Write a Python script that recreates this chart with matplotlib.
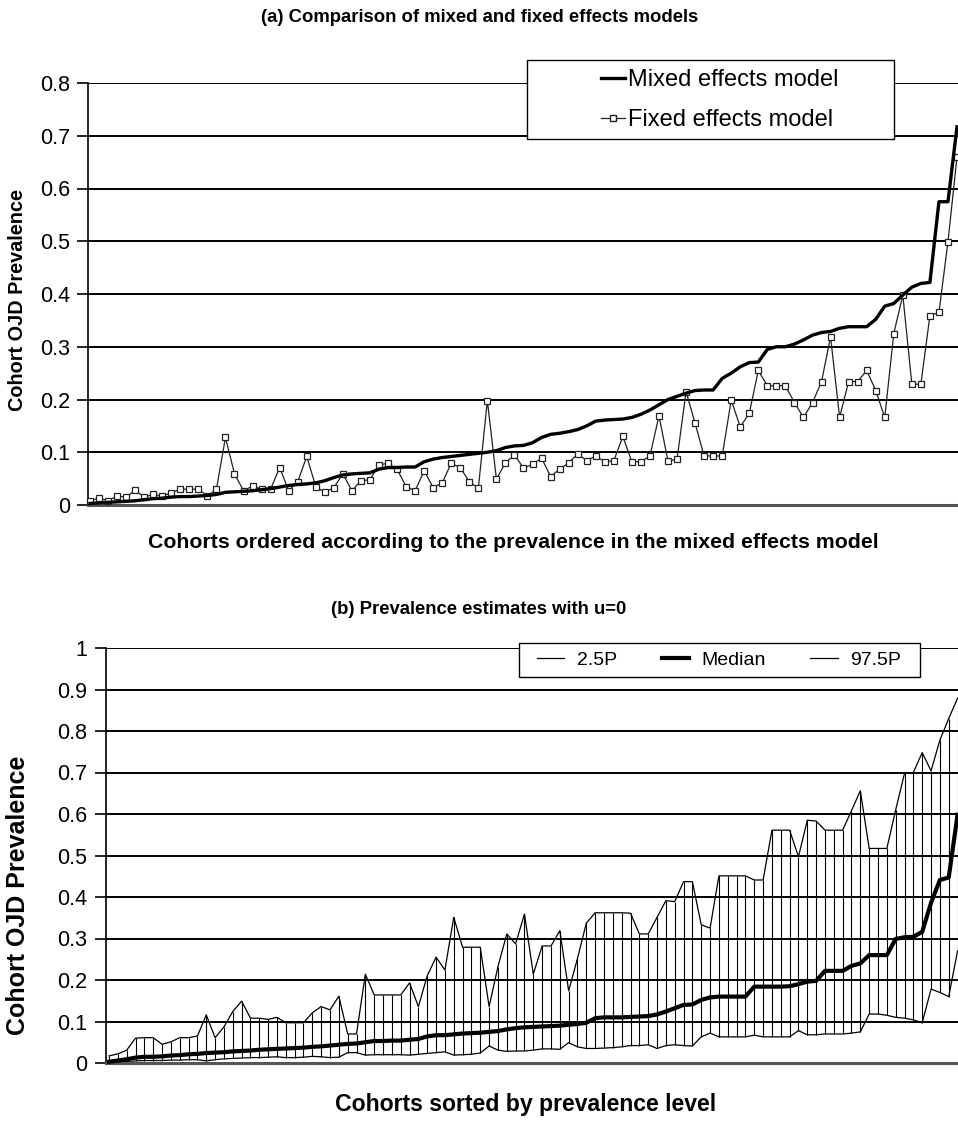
import matplotlib
matplotlib.use("Agg")
import matplotlib.pyplot as plt
from matplotlib.patches import Rectangle
from matplotlib.lines import Line2D
import numpy as np

plt.rcParams['font.family'] = ['Liberation Sans', 'DejaVu Sans']

# ---------------- data: panel (a) ----------------
mixed_effects = [
    0.003, 0.004, 0.005, 0.006, 0.007, 0.008, 0.010, 0.012, 0.013, 0.015,
    0.016, 0.016, 0.017, 0.018, 0.020, 0.024, 0.025, 0.026, 0.027, 0.029,
    0.031, 0.034, 0.037, 0.039, 0.040, 0.042, 0.046, 0.052, 0.057, 0.059,
    0.060, 0.061, 0.068, 0.071, 0.071, 0.072, 0.072, 0.082, 0.087, 0.090,
    0.092, 0.094, 0.096, 0.098, 0.100, 0.103, 0.109, 0.112, 0.113, 0.118,
    0.128, 0.134, 0.136, 0.139, 0.143, 0.150, 0.159, 0.161, 0.162, 0.163,
    0.166, 0.172, 0.180, 0.190, 0.200, 0.206, 0.212, 0.217, 0.218, 0.218,
    0.240, 0.250, 0.262, 0.270, 0.271, 0.295, 0.300, 0.300, 0.305, 0.313,
    0.322, 0.327, 0.329, 0.335, 0.338, 0.338, 0.338, 0.352, 0.377, 0.382,
    0.398, 0.413, 0.420, 0.422, 0.575, 0.575, 0.717]
fixed_effects = [
    0.008, 0.013, 0.008, 0.017, 0.015, 0.028, 0.015, 0.020, 0.017, 0.023,
    0.030, 0.030, 0.030, 0.017, 0.030, 0.128, 0.059, 0.027, 0.036, 0.030,
    0.030, 0.071, 0.027, 0.044, 0.092, 0.035, 0.024, 0.033, 0.059, 0.027,
    0.046, 0.048, 0.076, 0.079, 0.068, 0.035, 0.027, 0.065, 0.033, 0.042,
    0.079, 0.071, 0.044, 0.032, 0.198, 0.049, 0.080, 0.095, 0.070, 0.077,
    0.089, 0.054, 0.068, 0.080, 0.097, 0.084, 0.093, 0.082, 0.084, 0.130,
    0.082, 0.082, 0.093, 0.169, 0.083, 0.087, 0.215, 0.155, 0.093, 0.093,
    0.093, 0.199, 0.148, 0.174, 0.255, 0.226, 0.226, 0.226, 0.194, 0.166,
    0.194, 0.234, 0.319, 0.166, 0.234, 0.234, 0.255, 0.217, 0.166, 0.325,
    0.398, 0.229, 0.229, 0.359, 0.365, 0.499, 0.660]

# ---------------- data: panel (b) ----------------
p025 = [
    0.002, 0.003, 0.004, 0.005, 0.006, 0.006, 0.006, 0.007, 0.007, 0.008,
    0.008, 0.005, 0.008, 0.010, 0.011, 0.012, 0.013, 0.013, 0.014, 0.015,
    0.013, 0.013, 0.014, 0.016, 0.015, 0.013, 0.014, 0.025, 0.025, 0.019,
    0.020, 0.020, 0.020, 0.020, 0.019, 0.021, 0.023, 0.025, 0.027, 0.019,
    0.020, 0.021, 0.024, 0.041, 0.031, 0.028, 0.029, 0.029, 0.031, 0.034,
    0.034, 0.033, 0.049, 0.039, 0.035, 0.035, 0.036, 0.037, 0.039, 0.042,
    0.042, 0.044, 0.035, 0.042, 0.044, 0.042, 0.041, 0.063, 0.072, 0.063,
    0.063, 0.063, 0.063, 0.067, 0.063, 0.063, 0.063, 0.063, 0.078, 0.068,
    0.068, 0.070, 0.070, 0.070, 0.072, 0.075, 0.118, 0.118, 0.115, 0.110,
    0.108, 0.104, 0.097, 0.178, 0.170, 0.160, 0.270]
median = [
    0.003, 0.006, 0.009, 0.013, 0.015, 0.015, 0.016, 0.018, 0.019, 0.021,
    0.022, 0.024, 0.025, 0.026, 0.028, 0.029, 0.030, 0.032, 0.033, 0.034,
    0.035, 0.036, 0.037, 0.039, 0.040, 0.042, 0.044, 0.046, 0.047, 0.050,
    0.053, 0.053, 0.054, 0.054, 0.056, 0.058, 0.064, 0.067, 0.067, 0.069,
    0.071, 0.072, 0.073, 0.075, 0.077, 0.081, 0.084, 0.086, 0.087, 0.088,
    0.089, 0.090, 0.092, 0.094, 0.097, 0.108, 0.110, 0.110, 0.110, 0.111,
    0.112, 0.113, 0.117, 0.124, 0.132, 0.140, 0.141, 0.152, 0.158, 0.160,
    0.160, 0.160, 0.160, 0.184, 0.184, 0.184, 0.184, 0.185, 0.190, 0.196,
    0.198, 0.222, 0.222, 0.222, 0.234, 0.240, 0.260, 0.260, 0.260, 0.299,
    0.303, 0.304, 0.316, 0.386, 0.441, 0.447, 0.598]
p975 = [
    0.017, 0.022, 0.031, 0.060, 0.061, 0.061, 0.045, 0.051, 0.061, 0.061,
    0.065, 0.116, 0.061, 0.087, 0.124, 0.149, 0.108, 0.108, 0.105, 0.110,
    0.097, 0.097, 0.097, 0.121, 0.136, 0.128, 0.161, 0.070, 0.070, 0.214,
    0.164, 0.164, 0.164, 0.164, 0.193, 0.136, 0.210, 0.255, 0.224, 0.351,
    0.279, 0.279, 0.279, 0.136, 0.232, 0.311, 0.287, 0.359, 0.214, 0.282,
    0.282, 0.319, 0.174, 0.252, 0.337, 0.362, 0.362, 0.362, 0.362, 0.361,
    0.311, 0.311, 0.351, 0.391, 0.389, 0.437, 0.437, 0.333, 0.325, 0.451,
    0.451, 0.451, 0.451, 0.441, 0.441, 0.561, 0.561, 0.561, 0.497, 0.585,
    0.583, 0.561, 0.561, 0.561, 0.608, 0.656, 0.517, 0.517, 0.517, 0.610,
    0.698, 0.700, 0.748, 0.704, 0.778, 0.830, 0.879]

yticks_a = [0, 0.1, 0.2, 0.3, 0.4, 0.5, 0.6, 0.7, 0.8]
ytick_labels_a = ['0', '0.1', '0.2', '0.3', '0.4', '0.5', '0.6', '0.7', '0.8']
yticks_b = [0, 0.1, 0.2, 0.3, 0.4, 0.5, 0.6, 0.7, 0.8, 0.9, 1.0]
ytick_labels_b = ['0', '0.1', '0.2', '0.3', '0.4', '0.5', '0.6', '0.7', '0.8', '0.9', '1']

W, H = 958, 1128
fig = plt.figure(figsize=(W / 100, H / 100), dpi=100)
fig.patch.set_facecolor('white')


def style_axes(ax, yticks, ylabels, ymax):
    ax.set_ylim(0, ymax)
    ax.set_yticks(yticks)
    ax.set_yticklabels(ylabels, fontsize=15.5)
    ax.set_xticks([])
    for y in yticks:
        ax.axhline(y, color='black', lw=1.4, zorder=1)
    for s in ['top', 'right']:
        ax.spines[s].set_visible(False)
    ax.spines['left'].set_linewidth(1.2)
    ax.spines['bottom'].set_color('#555555')
    ax.spines['bottom'].set_linewidth(2.2)
    ax.tick_params(axis='y', direction='out', length=8, width=1.2, pad=5)


# ---------------- panel (a) ----------------
ax1 = fig.add_axes([88 / W, 1 - 505 / H, 870 / W, 422 / H])
xa = np.arange(len(mixed_effects))
ax1.set_xlim(-0.22, len(mixed_effects) - 1 + 0.11)
style_axes(ax1, yticks_a, ytick_labels_a, 0.8)
ax1.plot(xa, fixed_effects, color='#222222', lw=0.9, marker='s', markersize=4.5,
         markerfacecolor='white', markeredgecolor='#222222', markeredgewidth=0.9,
         zorder=3, clip_on=False)
ax1.plot(xa, mixed_effects, color='black', lw=2.4, zorder=4, clip_on=False)

fig.text(479.5 / W, 1 - 18 / H, '(a) Comparison of mixed and fixed effects models',
         ha='center', va='center', fontsize=13.3, fontweight='bold')
fig.text(513 / W, 1 - 543 / H,
         'Cohorts ordered according to the prevalence in the mixed effects model',
         ha='center', va='center', fontsize=15.3, fontweight='bold')
fig.text(18 / W, 1 - 300 / H, 'Cohort OJD Prevalence', rotation=90,
         ha='center', va='center', fontsize=14.3, fontweight='bold')

fig.patches.append(Rectangle((527 / W, 1 - 139 / H), (894 - 527) / W, 79 / H,
                             transform=fig.transFigure, facecolor='white',
                             edgecolor='black', lw=1.0, zorder=4))
handles_a = [Line2D([], [], color='black', lw=2.4),
             Line2D([], [], color='#222222', lw=0.9, marker='s', markersize=4.5,
                    markerfacecolor='white', markeredgecolor='#222222')]
leg_a = fig.legend(handles_a, ['Mixed effects model', 'Fixed effects model'],
                   loc='center left', bbox_to_anchor=(580 / W, 1 - 100 / H),
                   frameon=False, fontsize=17, handlelength=1.0, handletextpad=0.15,
                   labelspacing=0.75)
leg_a.set_zorder(6)

# ---------------- panel (b) ----------------
ax2 = fig.add_axes([105.5 / W, 1 - 1063 / H, 852.5 / W, 415 / H])
xb = np.arange(len(median))
ax2.set_xlim(-0.4, len(median) - 1 + 0.05)
style_axes(ax2, yticks_b, ytick_labels_b, 1.0)
ax2.vlines(xb, p025, p975, color='black', lw=0.8, zorder=2)
ax2.plot(xb, p025, color='black', lw=0.9, zorder=3)
ax2.plot(xb, p975, color='black', lw=0.9, zorder=3, clip_on=False)
ax2.plot(xb, median, color='black', lw=3.0, zorder=4, clip_on=False)

fig.text(479 / W, 1 - 610 / H, '(b) Prevalence estimates with u=0',
         ha='center', va='center', fontsize=13.3, fontweight='bold')
fig.text(526 / W, 1 - 1105 / H, 'Cohorts sorted by prevalence level',
         ha='center', va='center', fontsize=16.6, fontweight='bold')
fig.text(18 / W, 1 - 895 / H, 'Cohort OJD Prevalence', rotation=90,
         ha='center', va='center', fontsize=18, fontweight='bold')

fig.patches.append(Rectangle((519 / W, 1 - 677 / H), (920 - 519) / W, 34 / H,
                             transform=fig.transFigure, facecolor='white',
                             edgecolor='black', lw=1.0, zorder=4))
handles_b = [Line2D([], [], color='black', lw=0.9),
             Line2D([], [], color='black', lw=3.0),
             Line2D([], [], color='black', lw=0.9)]
leg_b = fig.legend(handles_b, ['2.5P', 'Median', '97.5P'], ncol=3,
                   loc='center', bbox_to_anchor=(719 / W, 1 - 660 / H),
                   frameon=False, fontsize=14, handlelength=1.4, handletextpad=0.65,
                   columnspacing=2.3)
leg_b.set_zorder(6)

fig.savefig('out.png', dpi=100)
